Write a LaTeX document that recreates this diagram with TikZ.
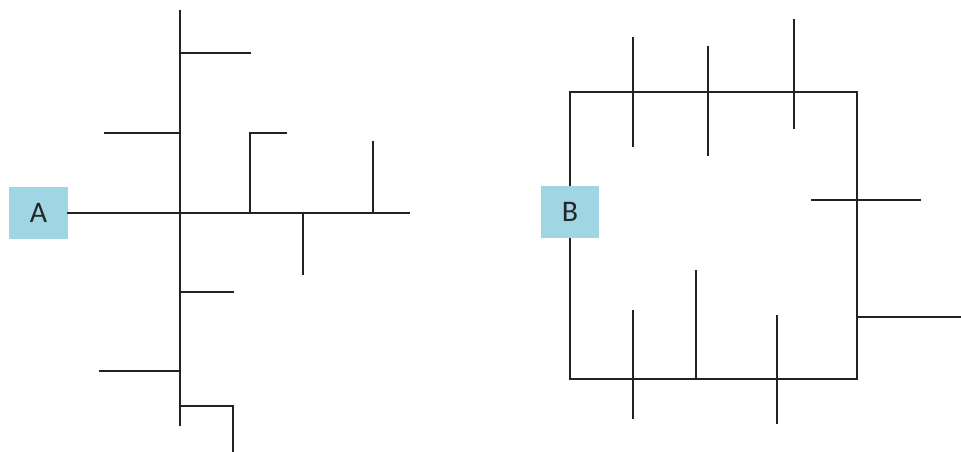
\documentclass[tikz,border=0pt]{standalone}
\usepackage{fontspec}
\setsansfont{Carlito}
\usetikzlibrary{positioning}
\definecolor{boxblue}{RGB}{160,214,228}
\definecolor{wireink}{RGB}{34,34,34}

\begin{document}
\begin{tikzpicture}[
    x=0.02cm, y=-0.02cm,
    entry/.style={fill=boxblue, minimum width=1.18cm, minimum height=1.05cm, inner sep=0pt, font=\sffamily\fontsize{17}{20}\selectfont, text=black!85},
    wire/.style={line width=1.1pt, wireink, line cap=rect}
]
\useasboundingbox (0,0) rectangle (961,452);

% left maze
\node[entry] (A) at (38.5,213) {A};
\coordinate (hubA) at (180,213);
\coordinate (endA) at (409,213);
\coordinate (topA) at (180,11);
\coordinate (botA) at (180,425);
\draw[wire] (A.east) -- (hubA) -- (endA);
\draw[wire] (topA) -- (hubA) -- (botA);
\draw[wire] (180,53) -- (250,53);
\draw[wire] (105,133) -- (180,133);
\draw[wire] (250,213) -- (250,133) -- (286,133);
\draw[wire] (373,213) -- (373,142);
\draw[wire] (303,213) -- (303,274);
\draw[wire] (180,292) -- (233,292);
\draw[wire] (100,371) -- (180,371);
\draw[wire] (180,406) -- (233,406) -- (233,452);

% right maze
\node[entry] (B) at (570,212) {B};
\draw[wire] (B.north) -- (570,92) -- (857,92) -- (857,379) -- (570,379) -- (B.south);
\draw[wire] (633,38) -- (633,146);
\draw[wire] (708,47) -- (708,155);
\draw[wire] (794,20) -- (794,128);
\draw[wire] (812,200) -- (920,200);
\draw[wire] (857,317) -- (961,317);
\draw[wire] (633,311) -- (633,418);
\draw[wire] (696,271) -- (696,379);
\draw[wire] (777,316) -- (777,423);
\end{tikzpicture}
\end{document}
